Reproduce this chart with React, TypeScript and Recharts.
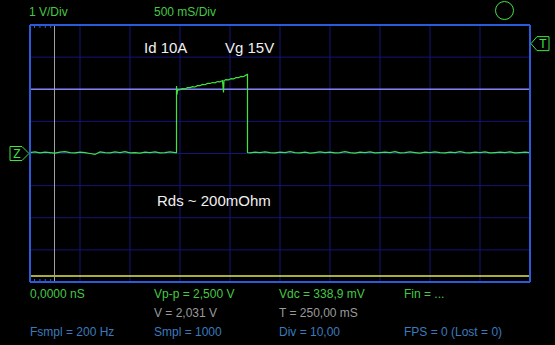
import React from 'react';
import {
  LineChart,
  Line,
  XAxis,
  YAxis,
  CartesianGrid,
  ReferenceLine,
  ReferenceDot,
} from 'recharts';

// channel A, volts. 500 mS/Div, 1 V/Div
const SAMPLE_STEP = 0.05; // s between idle samples

// idle level, 0.00 .. 1.45 s
const idleBefore = [
  0.03, 0.05, 0.02, 0.04, 0.03, 0.01, 0.04, 0.06, 0.03, 0.02,
  0.04, 0.03, 0.0, -0.03, 0.05, 0.03, 0.02, 0.05, 0.03, 0.06,
  0.02, 0.03, 0.01, 0.04, 0.03, 0.05, 0.02, 0.03, 0.05, 0.03,
];

// gate pulse (Vg 15V, Id 10A)
const pulseTime = [
  1.465, 1.465, 1.47, 1.475, 1.5, 1.525, 1.55, 1.575, 1.6, 1.625,
  1.65, 1.675, 1.7, 1.725, 1.75, 1.775, 1.8, 1.825, 1.85, 1.875,
  1.9, 1.925, 1.935, 1.94, 1.96, 1.985, 2.01, 2.035, 2.06, 2.085,
  2.11, 2.135, 2.16, 2.175, 2.175,
];
const pulseVolt = [
  0.03, 2.1, 1.83, 1.97, 1.99, 2.02, 2.01, 2.05, 2.05, 2.08,
  2.07, 2.11, 2.11, 2.15, 2.14, 2.18, 2.18, 2.21, 2.2, 2.24,
  2.23, 2.27, 1.9, 2.27, 2.3, 2.29, 2.33, 2.32, 2.36, 2.36,
  2.4, 2.39, 2.44, 2.46, 0.03,
];

// idle level, 2.20 .. 5.00 s
const IDLE_AFTER_START = 2.2;
const idleAfter = [
  0.02, 0.04, 0.03, 0.05, 0.03, 0.02, 0.04, 0.03, 0.06, 0.03,
  0.02, 0.04, 0.01, 0.03, 0.05, 0.03, 0.04, 0.02, 0.03, 0.06,
  0.03, 0.01, 0.04, 0.03, 0.05, 0.02, 0.03, 0.04, 0.03, 0.06,
  0.02, 0.03, 0.05, 0.03, 0.01, 0.04, 0.03, 0.05, 0.03, 0.02,
  0.04, 0.03, 0.06, 0.03, 0.02, 0.04, 0.03, 0.05, 0.02, 0.03,
  0.04, 0.03, 0.05, 0.02, 0.03, 0.04, 0.03,
];

const timeTicks = [0, 0.5, 1, 1.5, 2, 2.5, 3, 3.5, 4, 4.5, 5];
const voltTicks = [-4, -3, -2, -1, 0, 1, 2, 3, 4];
const minorTimeTicks = Array.from({ length: 51 }, (_, i) => i / 10);
const minorVoltTicks = Array.from({ length: 41 }, (_, i) => -4 + i / 5);

const TRIGGER_LEVEL = 2;
const CURSOR_T = 0.245;
const REF_LEVEL = -3.81;
const T_MARK_LEVEL = 3.42;

const r3 = (n: number) => Math.round(n * 1000) / 1000;

const data = [
  ...idleBefore.map((v, i) => ({ t: r3(i * SAMPLE_STEP), v })),
  ...pulseTime.map((t, i) => ({ t, v: pulseVolt[i] })),
  ...idleAfter.map((v, i) => ({ t: r3(IDLE_AFTER_START + i * SAMPLE_STEP), v })),
];

const GREEN = '#3fe43f';
const TXT_GREEN = '#45c845';
const TXT_BLUE = '#3b7bbd';
const TXT_GRAY = '#9a9a9a';
const GRID = '#14147a';
const FRAME = '#2b5bd8';

const FONT = '"Liberation Sans", Arial, sans-serif';

const Label = ({ x, y, color, size = 12, children }: any) => (
  <div
    style={{
      position: 'absolute',
      left: x,
      top: y,
      color,
      fontSize: size,
      lineHeight: 1,
      fontFamily: FONT,
      whiteSpace: 'nowrap',
    }}
  >
    {children}
  </div>
);

const ZMarker = ({ cx, cy }: any) => (
  <g>
    <path
      d={`M${cx - 20},${cy - 7} L${cx - 8},${cy - 7} L${cx - 1},${cy} L${cx - 8},${cy + 7} L${cx - 20},${cy + 7} Z`}
      fill="#000"
      stroke={GREEN}
      strokeWidth={1}
    />
    <text x={cx - 13} y={cy + 4.5} fill={GREEN} fontSize={12} fontFamily={FONT} textAnchor="middle">
      Z
    </text>
  </g>
);

const TMarker = ({ cx, cy }: any) => (
  <g>
    <path
      d={`M${cx + 1},${cy} L${cx + 7},${cy - 7} L${cx + 19},${cy - 7} L${cx + 19},${cy + 7} L${cx + 7},${cy + 7} Z`}
      fill="#000"
      stroke={GREEN}
      strokeWidth={1}
    />
    <text x={cx + 13} y={cy + 4.5} fill={GREEN} fontSize={12} fontFamily={FONT} textAnchor="middle">
      T
    </text>
  </g>
);

const blank = () => '';

export default function App() {
  return (
    <div style={{ position: 'relative', width: 555, height: 345, background: '#000', overflow: 'hidden' }}>
      <style>{'body{margin:0;background:#000}'}</style>
      <LineChart width={555} height={345} data={data} margin={{ top: 25, right: 25, bottom: 63, left: 30 }}>
        <CartesianGrid stroke={GRID} strokeWidth={1} />
        <XAxis dataKey="t" type="number" domain={[0, 5]} ticks={timeTicks} hide allowDataOverflow />
        <YAxis type="number" domain={[-4, 4]} ticks={voltTicks} hide allowDataOverflow />
        <XAxis
          xAxisId="top"
          orientation="top"
          type="number"
          domain={[0, 5]}
          ticks={minorTimeTicks}
          mirror
          tickSize={3}
          tickFormatter={blank}
          axisLine={{ stroke: FRAME, strokeWidth: 2 }}
          tickLine={{ stroke: FRAME }}
        />
        <XAxis
          xAxisId="bottom"
          orientation="bottom"
          type="number"
          domain={[0, 5]}
          ticks={minorTimeTicks}
          mirror
          tickSize={3}
          tickFormatter={blank}
          axisLine={{ stroke: FRAME, strokeWidth: 2 }}
          tickLine={{ stroke: FRAME }}
        />
        <YAxis
          yAxisId="left"
          orientation="left"
          type="number"
          domain={[-4, 4]}
          ticks={minorVoltTicks}
          mirror
          tickSize={3}
          tickFormatter={blank}
          axisLine={{ stroke: FRAME, strokeWidth: 2 }}
          tickLine={{ stroke: FRAME }}
        />
        <YAxis
          yAxisId="right"
          orientation="right"
          type="number"
          domain={[-4, 4]}
          ticks={minorVoltTicks}
          mirror
          tickSize={3}
          tickFormatter={blank}
          axisLine={{ stroke: FRAME, strokeWidth: 2 }}
          tickLine={{ stroke: FRAME }}
        />
        <ReferenceLine y={TRIGGER_LEVEL} stroke="#8383ee" strokeWidth={1.5} />
        <ReferenceLine y={REF_LEVEL} stroke="#e4e44e" strokeWidth={1.5} />
        <ReferenceLine x={CURSOR_T} stroke="#a0a0a0" strokeWidth={1} />
        <Line
          dataKey="v"
          stroke={GREEN}
          strokeWidth={1.2}
          dot={false}
          isAnimationActive={false}
          type="linear"
        />
        <ReferenceDot x={0} y={0} r={0} shape={ZMarker} ifOverflow="visible" />
        <ReferenceDot x={5} y={T_MARK_LEVEL} r={0} shape={TMarker} ifOverflow="visible" />
      </LineChart>

      <div
        style={{
          position: 'absolute',
          left: 494.5,
          top: 1,
          width: 19,
          height: 19,
          border: `1px solid ${GREEN}`,
          borderRadius: '50%',
          boxSizing: 'border-box',
        }}
      />

      <Label x={29} y={6} color={TXT_GREEN}>1 V/Div</Label>
      <Label x={154} y={6} color={TXT_GREEN}>500 mS/Div</Label>

      <Label x={144} y={40} color="#f0f0f0" size={15}>Id 10A</Label>
      <Label x={225} y={40} color="#f0f0f0" size={15}>Vg 15V</Label>
      <Label x={157} y={193} color="#f0f0f0" size={15}>Rds ~ 200mOhm</Label>

      <Label x={30} y={288} color={TXT_GREEN}>0,0000 nS</Label>
      <Label x={154} y={288} color={TXT_GREEN}>Vp-p = 2,500 V</Label>
      <Label x={279} y={288} color={TXT_GREEN}>Vdc = 338,9 mV</Label>
      <Label x={404} y={288} color={TXT_GREEN}>Fin = ...</Label>

      <Label x={154} y={307} color={TXT_GRAY}>V = 2,031 V</Label>
      <Label x={279} y={307} color={TXT_GRAY}>T = 250,00 mS</Label>

      <Label x={30} y={326} color={TXT_BLUE}>Fsmpl = 200 Hz</Label>
      <Label x={154} y={326} color={TXT_BLUE}>Smpl = 1000</Label>
      <Label x={279} y={326} color={TXT_BLUE}>Div = 10,00</Label>
      <Label x={404} y={326} color={TXT_BLUE}>FPS = 0 (Lost = 0)</Label>
    </div>
  );
}
